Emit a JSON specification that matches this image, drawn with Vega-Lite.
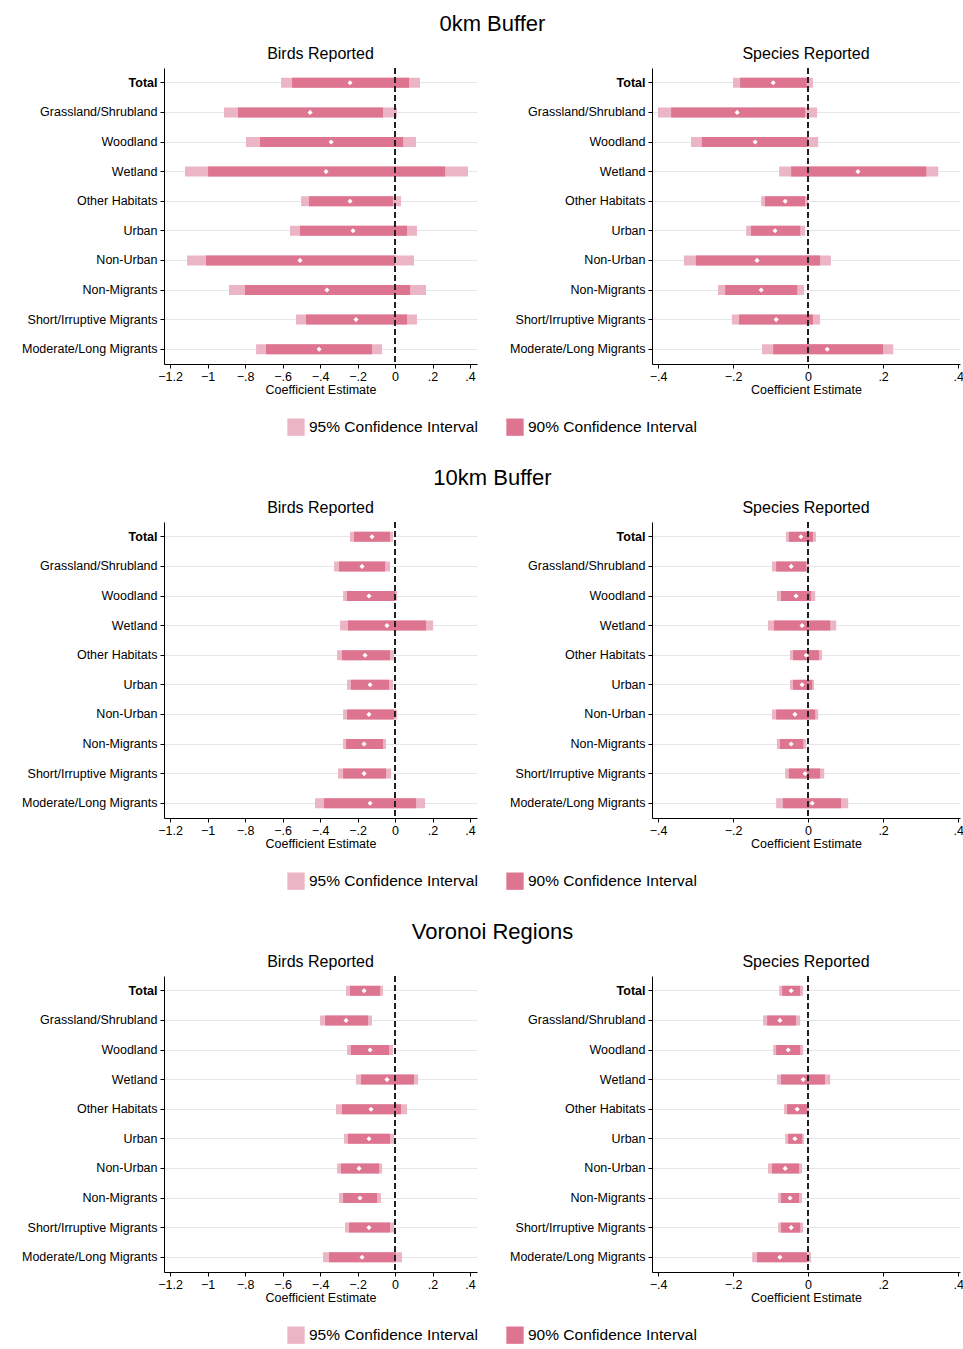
{
  "$schema": "https://vega.github.io/schema/vega-lite/v6.json",
  "padding": {"left": 21, "top": 12, "right": 3, "bottom": 5},
  "config": {
    "font": "Liberation Sans",
    "view": {"stroke": null},
    "title": {"fontSize": 16, "fontWeight": "normal", "offset": 6, "anchor": "middle"},
    "axis": {"labelFontSize": 12.5, "titleFontSize": 12.5, "titleFontWeight": "normal", "labelColor": "black", "titleColor": "black", "domainColor": "black", "tickColor": "black"},
    "axisX": {"labelOverlap": false, "grid": false, "tickSize": 4, "titlePadding": 1, "labelExpr": "replace(format(datum.value,'.1~f'),'0.','.')"},
    "legend": {"orient": "bottom", "direction": "horizontal", "labelFontSize": 15.5, "symbolType": "square", "symbolSize": 300, "symbolStrokeWidth": 0, "columnPadding": 28, "labelLimit": 300, "offset": 22, "layout": {"bottom": {"anchor": "middle"}}},
    "concat": {"spacing": 32}
  },
  "datasets": {
    "d": [
      {"s":"A","p":"B","c":"Total","l95":-0.608,"h95":0.133,"l90":-0.549,"h90":0.075,"e":-0.24},
      {"s":"A","p":"B","c":"Grassland/Shrubland","l95":-0.912,"h95":0.011,"l90":-0.837,"h90":-0.064,"e":-0.453},
      {"s":"A","p":"B","c":"Woodland","l95":-0.795,"h95":0.112,"l90":-0.72,"h90":0.043,"e":-0.341},
      {"s":"A","p":"B","c":"Wetland","l95":-1.12,"h95":0.389,"l90":-0.997,"h90":0.267,"e":-0.368},
      {"s":"A","p":"B","c":"Other Habitats","l95":-0.501,"h95":0.032,"l90":-0.459,"h90":-0.011,"e":-0.24},
      {"s":"A","p":"B","c":"Urban","l95":-0.56,"h95":0.117,"l90":-0.507,"h90":0.064,"e":-0.224},
      {"s":"A","p":"B","c":"Non-Urban","l95":-1.109,"h95":0.101,"l90":-1.008,"h90":0.0,"e":-0.507},
      {"s":"A","p":"B","c":"Non-Migrants","l95":-0.885,"h95":0.165,"l90":-0.8,"h90":0.08,"e":-0.363},
      {"s":"A","p":"B","c":"Short/Irruptive Migrants","l95":-0.528,"h95":0.117,"l90":-0.475,"h90":0.064,"e":-0.208},
      {"s":"A","p":"B","c":"Moderate/Long Migrants","l95":-0.741,"h95":-0.069,"l90":-0.688,"h90":-0.123,"e":-0.405},

      {"s":"A","p":"S","c":"Total","l95":-0.2,"h95":0.013,"l90":-0.181,"h90":-0.003,"e":-0.093},
      {"s":"A","p":"S","c":"Grassland/Shrubland","l95":-0.4,"h95":0.024,"l90":-0.365,"h90":-0.008,"e":-0.189},
      {"s":"A","p":"S","c":"Woodland","l95":-0.312,"h95":0.027,"l90":-0.283,"h90":0.0,"e":-0.141},
      {"s":"A","p":"S","c":"Wetland","l95":-0.077,"h95":0.347,"l90":-0.045,"h90":0.315,"e":0.133},
      {"s":"A","p":"S","c":"Other Habitats","l95":-0.125,"h95":0.0,"l90":-0.115,"h90":-0.008,"e":-0.061},
      {"s":"A","p":"S","c":"Urban","l95":-0.165,"h95":-0.008,"l90":-0.152,"h90":-0.021,"e":-0.088},
      {"s":"A","p":"S","c":"Non-Urban","l95":-0.331,"h95":0.061,"l90":-0.299,"h90":0.032,"e":-0.136},
      {"s":"A","p":"S","c":"Non-Migrants","l95":-0.24,"h95":-0.011,"l90":-0.221,"h90":-0.029,"e":-0.125},
      {"s":"A","p":"S","c":"Short/Irruptive Migrants","l95":-0.203,"h95":0.032,"l90":-0.184,"h90":0.013,"e":-0.085},
      {"s":"A","p":"S","c":"Moderate/Long Migrants","l95":-0.123,"h95":0.227,"l90":-0.093,"h90":0.2,"e":0.051},

      {"s":"B","p":"B","c":"Total","l95":-0.24,"h95":-0.011,"l90":-0.219,"h90":-0.027,"e":-0.123},
      {"s":"B","p":"B","c":"Grassland/Shrubland","l95":-0.325,"h95":-0.027,"l90":-0.299,"h90":-0.053,"e":-0.176},
      {"s":"B","p":"B","c":"Woodland","l95":-0.277,"h95":0.011,"l90":-0.256,"h90":0.0,"e":-0.139},
      {"s":"B","p":"B","c":"Wetland","l95":-0.293,"h95":0.203,"l90":-0.251,"h90":0.165,"e":-0.043},
      {"s":"B","p":"B","c":"Other Habitats","l95":-0.309,"h95":-0.005,"l90":-0.283,"h90":-0.027,"e":-0.16},
      {"s":"B","p":"B","c":"Urban","l95":-0.256,"h95":-0.011,"l90":-0.235,"h90":-0.032,"e":-0.133},
      {"s":"B","p":"B","c":"Non-Urban","l95":-0.277,"h95":0.011,"l90":-0.256,"h90":-0.005,"e":-0.139},
      {"s":"B","p":"B","c":"Non-Migrants","l95":-0.277,"h95":-0.048,"l90":-0.261,"h90":-0.064,"e":-0.165},
      {"s":"B","p":"B","c":"Short/Irruptive Migrants","l95":-0.304,"h95":-0.021,"l90":-0.277,"h90":-0.048,"e":-0.165},
      {"s":"B","p":"B","c":"Moderate/Long Migrants","l95":-0.427,"h95":0.16,"l90":-0.379,"h90":0.112,"e":-0.133},

      {"s":"B","p":"S","c":"Total","l95":-0.059,"h95":0.021,"l90":-0.051,"h90":0.013,"e":-0.019},
      {"s":"B","p":"S","c":"Grassland/Shrubland","l95":-0.096,"h95":0.003,"l90":-0.085,"h90":-0.005,"e":-0.045},
      {"s":"B","p":"S","c":"Woodland","l95":-0.083,"h95":0.019,"l90":-0.072,"h90":0.008,"e":-0.032},
      {"s":"B","p":"S","c":"Wetland","l95":-0.107,"h95":0.075,"l90":-0.091,"h90":0.059,"e":-0.016},
      {"s":"B","p":"S","c":"Other Habitats","l95":-0.048,"h95":0.037,"l90":-0.04,"h90":0.029,"e":-0.005},
      {"s":"B","p":"S","c":"Urban","l95":-0.048,"h95":0.016,"l90":-0.04,"h90":0.011,"e":-0.016},
      {"s":"B","p":"S","c":"Non-Urban","l95":-0.096,"h95":0.027,"l90":-0.085,"h90":0.019,"e":-0.035},
      {"s":"B","p":"S","c":"Non-Migrants","l95":-0.083,"h95":-0.005,"l90":-0.075,"h90":-0.013,"e":-0.045},
      {"s":"B","p":"S","c":"Short/Irruptive Migrants","l95":-0.061,"h95":0.043,"l90":-0.051,"h90":0.032,"e":-0.008},
      {"s":"B","p":"S","c":"Moderate/Long Migrants","l95":-0.085,"h95":0.107,"l90":-0.067,"h90":0.088,"e":0.011},

      {"s":"C","p":"B","c":"Total","l95":-0.261,"h95":-0.064,"l90":-0.24,"h90":-0.08,"e":-0.165},
      {"s":"C","p":"B","c":"Grassland/Shrubland","l95":-0.4,"h95":-0.123,"l90":-0.373,"h90":-0.144,"e":-0.261},
      {"s":"C","p":"B","c":"Woodland","l95":-0.256,"h95":-0.011,"l90":-0.235,"h90":-0.032,"e":-0.133},
      {"s":"C","p":"B","c":"Wetland","l95":-0.208,"h95":0.123,"l90":-0.181,"h90":0.101,"e":-0.043},
      {"s":"C","p":"B","c":"Other Habitats","l95":-0.315,"h95":0.064,"l90":-0.283,"h90":0.032,"e":-0.128},
      {"s":"C","p":"B","c":"Urban","l95":-0.272,"h95":-0.005,"l90":-0.251,"h90":-0.027,"e":-0.139},
      {"s":"C","p":"B","c":"Non-Urban","l95":-0.309,"h95":-0.069,"l90":-0.288,"h90":-0.085,"e":-0.192},
      {"s":"C","p":"B","c":"Non-Migrants","l95":-0.299,"h95":-0.075,"l90":-0.277,"h90":-0.096,"e":-0.187},
      {"s":"C","p":"B","c":"Short/Irruptive Migrants","l95":-0.267,"h95":-0.005,"l90":-0.245,"h90":-0.027,"e":-0.139},
      {"s":"C","p":"B","c":"Moderate/Long Migrants","l95":-0.384,"h95":0.037,"l90":-0.352,"h90":0.005,"e":-0.176},

      {"s":"C","p":"S","c":"Total","l95":-0.077,"h95":-0.013,"l90":-0.069,"h90":-0.021,"e":-0.045},
      {"s":"C","p":"S","c":"Grassland/Shrubland","l95":-0.12,"h95":-0.021,"l90":-0.109,"h90":-0.032,"e":-0.075},
      {"s":"C","p":"S","c":"Woodland","l95":-0.093,"h95":-0.013,"l90":-0.085,"h90":-0.021,"e":-0.053},
      {"s":"C","p":"S","c":"Wetland","l95":-0.083,"h95":0.059,"l90":-0.072,"h90":0.045,"e":-0.013},
      {"s":"C","p":"S","c":"Other Habitats","l95":-0.064,"h95":0.003,"l90":-0.056,"h90":-0.003,"e":-0.029},
      {"s":"C","p":"S","c":"Urban","l95":-0.061,"h95":-0.011,"l90":-0.053,"h90":-0.016,"e":-0.035},
      {"s":"C","p":"S","c":"Non-Urban","l95":-0.107,"h95":-0.016,"l90":-0.096,"h90":-0.024,"e":-0.061},
      {"s":"C","p":"S","c":"Non-Migrants","l95":-0.08,"h95":-0.016,"l90":-0.072,"h90":-0.024,"e":-0.048},
      {"s":"C","p":"S","c":"Short/Irruptive Migrants","l95":-0.08,"h95":-0.013,"l90":-0.072,"h90":-0.021,"e":-0.045},
      {"s":"C","p":"S","c":"Moderate/Long Migrants","l95":-0.149,"h95":0.008,"l90":-0.136,"h90":-0.003,"e":-0.075}
    ]
  },
  "data": {"name": "d"},
  "resolve": {"legend": {"color": "independent"}},
  "spacing": 30,
  "vconcat": [
    {
      "title": {"text": "0km Buffer", "fontSize": 22, "fontWeight": "normal", "offset": 10},
      "hconcat": [
        {
          "title": "Birds Reported", "width": 313, "height": 296,
          "transform": [{"filter": "datum.s=='A' && datum.p=='B'"}],
          "layer": [
            {"mark": {"type": "bar", "size": 10}, "encoding": {"y": {"field": "c", "type": "nominal", "sort": null, "title": null, "scale": {"paddingInner": 0, "paddingOuter": 0}, "axis": {"bandPosition": 0.5, "grid": true, "gridColor": "#e6e6e6", "tickSize": 4, "labelPadding": 3, "labelFontWeight": {"condition": {"test": "datum.value === 'Total'", "value": "bold"}, "value": "normal"}}}, "x": {"field": "l95", "type": "quantitative", "scale": {"domain": [-1.232, 0.437], "nice": false, "zero": false}, "title": "Coefficient Estimate", "axis": {"values": [-1.2,-1,-0.8,-0.6,-0.4,-0.2,0,0.2,0.4], "tickCount": 9, "labelOverlap": false}}, "x2": {"field": "h95"}, "color": {"datum": "95% Confidence Interval", "title": null, "scale": {"domain": ["95% Confidence Interval", "90% Confidence Interval"], "range": ["#ecb5c5", "#de7590"]}}}},
            {"mark": {"type": "bar", "size": 10}, "encoding": {"y": {"field": "c", "type": "nominal", "sort": null}, "x": {"field": "l90", "type": "quantitative"}, "x2": {"field": "h90"}, "color": {"datum": "90% Confidence Interval"}}},
            {"mark": {"type": "rule", "strokeDash": [6, 3], "color": "#222", "strokeWidth": 0.9}, "encoding": {"x": {"datum": 0}}},
            {"mark": {"type": "point", "shape": "diamond", "filled": true, "color": "white", "opacity": 1, "size": 26}, "encoding": {"y": {"field": "c", "type": "nominal", "sort": null}, "x": {"field": "e", "type": "quantitative"}}}
          ]
        },
        {
          "title": "Species Reported", "width": 308, "height": 296,
          "transform": [{"filter": "datum.s=='A' && datum.p=='S'"}],
          "layer": [
            {"mark": {"type": "bar", "size": 10}, "encoding": {"y": {"field": "c", "type": "nominal", "sort": null, "title": null, "scale": {"paddingInner": 0, "paddingOuter": 0}, "axis": {"bandPosition": 0.5, "grid": true, "gridColor": "#e6e6e6", "tickSize": 4, "labelPadding": 3, "labelFontWeight": {"condition": {"test": "datum.value === 'Total'", "value": "bold"}, "value": "normal"}}}, "x": {"field": "l95", "type": "quantitative", "scale": {"domain": [-0.416, 0.405], "nice": false, "zero": false}, "title": "Coefficient Estimate", "axis": {"values": [-0.4,-0.2,0,0.2,0.4], "tickCount": 5, "labelOverlap": false}}, "x2": {"field": "h95"}, "color": {"datum": "95% Confidence Interval"}}},
            {"mark": {"type": "bar", "size": 10}, "encoding": {"y": {"field": "c", "type": "nominal", "sort": null}, "x": {"field": "l90", "type": "quantitative"}, "x2": {"field": "h90"}, "color": {"datum": "90% Confidence Interval"}}},
            {"mark": {"type": "rule", "strokeDash": [6, 3], "color": "#222", "strokeWidth": 0.9}, "encoding": {"x": {"datum": 0}}},
            {"mark": {"type": "point", "shape": "diamond", "filled": true, "color": "white", "opacity": 1, "size": 26}, "encoding": {"y": {"field": "c", "type": "nominal", "sort": null}, "x": {"field": "e", "type": "quantitative"}}}
          ]
        }
      ]
    },
    {
      "title": {"text": "10km Buffer", "fontSize": 22, "fontWeight": "normal", "offset": 10},
      "hconcat": [
        {
          "title": "Birds Reported", "width": 313, "height": 296,
          "transform": [{"filter": "datum.s=='B' && datum.p=='B'"}],
          "layer": [
            {"mark": {"type": "bar", "size": 10}, "encoding": {"y": {"field": "c", "type": "nominal", "sort": null, "title": null, "scale": {"paddingInner": 0, "paddingOuter": 0}, "axis": {"bandPosition": 0.5, "grid": true, "gridColor": "#e6e6e6", "tickSize": 4, "labelPadding": 3, "labelFontWeight": {"condition": {"test": "datum.value === 'Total'", "value": "bold"}, "value": "normal"}}}, "x": {"field": "l95", "type": "quantitative", "scale": {"domain": [-1.232, 0.437], "nice": false, "zero": false}, "title": "Coefficient Estimate", "axis": {"values": [-1.2,-1,-0.8,-0.6,-0.4,-0.2,0,0.2,0.4], "tickCount": 9, "labelOverlap": false}}, "x2": {"field": "h95"}, "color": {"datum": "95% Confidence Interval", "title": null, "scale": {"domain": ["95% Confidence Interval", "90% Confidence Interval"], "range": ["#ecb5c5", "#de7590"]}}}},
            {"mark": {"type": "bar", "size": 10}, "encoding": {"y": {"field": "c", "type": "nominal", "sort": null}, "x": {"field": "l90", "type": "quantitative"}, "x2": {"field": "h90"}, "color": {"datum": "90% Confidence Interval"}}},
            {"mark": {"type": "rule", "strokeDash": [6, 3], "color": "#222", "strokeWidth": 0.9}, "encoding": {"x": {"datum": 0}}},
            {"mark": {"type": "point", "shape": "diamond", "filled": true, "color": "white", "opacity": 1, "size": 26}, "encoding": {"y": {"field": "c", "type": "nominal", "sort": null}, "x": {"field": "e", "type": "quantitative"}}}
          ]
        },
        {
          "title": "Species Reported", "width": 308, "height": 296,
          "transform": [{"filter": "datum.s=='B' && datum.p=='S'"}],
          "layer": [
            {"mark": {"type": "bar", "size": 10}, "encoding": {"y": {"field": "c", "type": "nominal", "sort": null, "title": null, "scale": {"paddingInner": 0, "paddingOuter": 0}, "axis": {"bandPosition": 0.5, "grid": true, "gridColor": "#e6e6e6", "tickSize": 4, "labelPadding": 3, "labelFontWeight": {"condition": {"test": "datum.value === 'Total'", "value": "bold"}, "value": "normal"}}}, "x": {"field": "l95", "type": "quantitative", "scale": {"domain": [-0.416, 0.405], "nice": false, "zero": false}, "title": "Coefficient Estimate", "axis": {"values": [-0.4,-0.2,0,0.2,0.4], "tickCount": 5, "labelOverlap": false}}, "x2": {"field": "h95"}, "color": {"datum": "95% Confidence Interval"}}},
            {"mark": {"type": "bar", "size": 10}, "encoding": {"y": {"field": "c", "type": "nominal", "sort": null}, "x": {"field": "l90", "type": "quantitative"}, "x2": {"field": "h90"}, "color": {"datum": "90% Confidence Interval"}}},
            {"mark": {"type": "rule", "strokeDash": [6, 3], "color": "#222", "strokeWidth": 0.9}, "encoding": {"x": {"datum": 0}}},
            {"mark": {"type": "point", "shape": "diamond", "filled": true, "color": "white", "opacity": 1, "size": 26}, "encoding": {"y": {"field": "c", "type": "nominal", "sort": null}, "x": {"field": "e", "type": "quantitative"}}}
          ]
        }
      ]
    },
    {
      "title": {"text": "Voronoi Regions", "fontSize": 22, "fontWeight": "normal", "offset": 10},
      "hconcat": [
        {
          "title": "Birds Reported", "width": 313, "height": 296,
          "transform": [{"filter": "datum.s=='C' && datum.p=='B'"}],
          "layer": [
            {"mark": {"type": "bar", "size": 10}, "encoding": {"y": {"field": "c", "type": "nominal", "sort": null, "title": null, "scale": {"paddingInner": 0, "paddingOuter": 0}, "axis": {"bandPosition": 0.5, "grid": true, "gridColor": "#e6e6e6", "tickSize": 4, "labelPadding": 3, "labelFontWeight": {"condition": {"test": "datum.value === 'Total'", "value": "bold"}, "value": "normal"}}}, "x": {"field": "l95", "type": "quantitative", "scale": {"domain": [-1.232, 0.437], "nice": false, "zero": false}, "title": "Coefficient Estimate", "axis": {"values": [-1.2,-1,-0.8,-0.6,-0.4,-0.2,0,0.2,0.4], "tickCount": 9, "labelOverlap": false}}, "x2": {"field": "h95"}, "color": {"datum": "95% Confidence Interval", "title": null, "scale": {"domain": ["95% Confidence Interval", "90% Confidence Interval"], "range": ["#ecb5c5", "#de7590"]}}}},
            {"mark": {"type": "bar", "size": 10}, "encoding": {"y": {"field": "c", "type": "nominal", "sort": null}, "x": {"field": "l90", "type": "quantitative"}, "x2": {"field": "h90"}, "color": {"datum": "90% Confidence Interval"}}},
            {"mark": {"type": "rule", "strokeDash": [6, 3], "color": "#222", "strokeWidth": 0.9}, "encoding": {"x": {"datum": 0}}},
            {"mark": {"type": "point", "shape": "diamond", "filled": true, "color": "white", "opacity": 1, "size": 26}, "encoding": {"y": {"field": "c", "type": "nominal", "sort": null}, "x": {"field": "e", "type": "quantitative"}}}
          ]
        },
        {
          "title": "Species Reported", "width": 308, "height": 296,
          "transform": [{"filter": "datum.s=='C' && datum.p=='S'"}],
          "layer": [
            {"mark": {"type": "bar", "size": 10}, "encoding": {"y": {"field": "c", "type": "nominal", "sort": null, "title": null, "scale": {"paddingInner": 0, "paddingOuter": 0}, "axis": {"bandPosition": 0.5, "grid": true, "gridColor": "#e6e6e6", "tickSize": 4, "labelPadding": 3, "labelFontWeight": {"condition": {"test": "datum.value === 'Total'", "value": "bold"}, "value": "normal"}}}, "x": {"field": "l95", "type": "quantitative", "scale": {"domain": [-0.416, 0.405], "nice": false, "zero": false}, "title": "Coefficient Estimate", "axis": {"values": [-0.4,-0.2,0,0.2,0.4], "tickCount": 5, "labelOverlap": false}}, "x2": {"field": "h95"}, "color": {"datum": "95% Confidence Interval"}}},
            {"mark": {"type": "bar", "size": 10}, "encoding": {"y": {"field": "c", "type": "nominal", "sort": null}, "x": {"field": "l90", "type": "quantitative"}, "x2": {"field": "h90"}, "color": {"datum": "90% Confidence Interval"}}},
            {"mark": {"type": "rule", "strokeDash": [6, 3], "color": "#222", "strokeWidth": 0.9}, "encoding": {"x": {"datum": 0}}},
            {"mark": {"type": "point", "shape": "diamond", "filled": true, "color": "white", "opacity": 1, "size": 26}, "encoding": {"y": {"field": "c", "type": "nominal", "sort": null}, "x": {"field": "e", "type": "quantitative"}}}
          ]
        }
      ]
    }
  ]
}
